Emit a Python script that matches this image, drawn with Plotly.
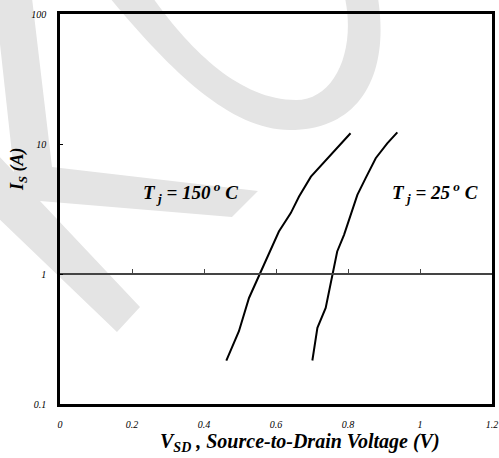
import plotly.graph_objects as go

# ---- data ----
v_150 = [0.462, 0.497, 0.525, 0.555, 0.581, 0.608, 0.641, 0.664, 0.697, 0.747, 0.807]
i_150 = [0.216, 0.363, 0.654, 1.00, 1.49, 2.12, 2.94, 3.94, 5.61, 8.0, 12.1]
v_25 = [0.701, 0.715, 0.738, 0.756, 0.770, 0.789, 0.807, 0.826, 0.849, 0.877, 0.909, 0.937]
i_25 = [0.216, 0.385, 0.548, 1.00, 1.49, 2.0, 2.85, 4.06, 5.46, 7.77, 10.1, 12.3]

x_ticks = [0, 0.2, 0.4, 0.6, 0.8, 1.0, 1.2]
x_ticktext = ["0", "0.2", "0.4", "0.6", "0.8", "1", "1.2"]
y_ticks = [0.1, 1, 10, 100]
y_ticktext = ["0.1", "1", "10", "100"]

W, H = 499, 458
L, R, T, B = 60, 7, 14, 54
PX0, PX1 = L, W - R
PY0, PY1 = T, H - B
FONT = "Liberation Serif"
WM = "#e4e4e4"


def px(x, y):
    xp = (x - PX0) / (PX1 - PX0)
    yp = (PY1 - y) / (PY1 - PY0)
    return f"{xp:.4f},{yp:.4f}"


def pp(x, y):
    return (x - PX0) / (PX1 - PX0), (PY1 - y) / (PY1 - PY0)


fig = go.Figure()
for xs, ys in [(v_150, i_150), (v_25, i_25)]:
    fig.add_trace(go.Scatter(x=xs, y=ys, mode="lines",
                             line=dict(color="black", width=2),
                             showlegend=False, hoverinfo="skip"))

# watermark "K" shape (decoration)
k_pts = [(-5, -2), (32, -2), (52, 167), (258, 191), (232, 217), (40, 201),
         (140, 307), (117, 332), (-5, 215), (-5, 152), (14, 172)]
k_path = "M " + " L ".join(px(*p) for p in k_pts) + " Z"
arc_path = ("M " + px(110, -2)
            + " C " + px(170, 70) + " " + px(230, 130) + " " + px(290, 130)
            + " C " + px(360, 130) + " " + px(390, 75) + " " + px(378, -2)
            + " L " + px(345, -2)
            + " C " + px(356, 50) + " " + px(335, 100) + " " + px(296, 100)
            + " C " + px(240, 100) + " " + px(190, 50) + " " + px(153, -2)
            + " Z")
for p in (k_path, arc_path):
    fig.add_shape(type="path", path=p, xref="paper", yref="paper",
                  fillcolor=WM, line=dict(width=0), layer="below")

fig.update_layout(
    width=W, height=H,
    margin=dict(l=L, r=R, t=T, b=B, autoexpand=False),
    paper_bgcolor="white", plot_bgcolor="rgba(0,0,0,0)",
    font=dict(family=FONT, color="black"),
    xaxis=dict(range=[0, 1.2], tickvals=x_ticks, ticktext=x_ticktext,
               showgrid=False, zeroline=False, showline=True, mirror=True,
               linecolor="black", linewidth=2.5, ticks="", automargin=False,
               tickfont=dict(family=FONT, size=10, style="italic"),
               ticklabelstandoff=9),
    xaxis2=dict(range=[0, 1.2], matches="x", overlaying="x", anchor="free",
                position=1 / 3, side="bottom", showgrid=False, zeroline=False,
                showline=True, linecolor="#444444", linewidth=1.5,
                tickvals=x_ticks, ticks="inside", ticklen=4, tickcolor="#444444",
                tickwidth=1, showticklabels=False, automargin=False),
    yaxis=dict(type="log", range=[-1, 2], tickvals=y_ticks, ticktext=y_ticktext,
               showgrid=False, zeroline=False, showline=True, mirror=True,
               linecolor="black", linewidth=2.5, ticks="inside", ticklen=3,
               tickcolor="black", automargin=False,
               tickfont=dict(family=FONT, size=10, style="italic"),
               ticklabelstandoff=9),
)

# dummy trace to activate xaxis2
fig.add_trace(go.Scatter(x=[None], y=[None], xaxis="x2", yaxis="y",
                         showlegend=False, hoverinfo="skip"))


def note(text, x, y, size, angle=0):
    ax, ay = pp(x, y)
    fig.add_annotation(text=text, xref="paper", yref="paper", x=ax, y=ay,
                       xanchor="center", yanchor="middle", textangle=angle,
                       showarrow=False, font=dict(family=FONT, size=size))


note("<b><i>V<sub>SD</sub> , Source-to-Drain Voltage (V)</i></b>", 300, 442, 20)
note("<b><i>I<sub>S</sub> (A)</i></b>", 18, 169, 18, -90)
note("<b><i>T<sub> j</sub> = 150<sup> o</sup> C</i></b>", 190, 192, 19)
note("<b><i>T<sub> j</sub> = 25<sup> o</sup> C</i></b>", 435, 192, 19)

fig.write_html("out.html")
